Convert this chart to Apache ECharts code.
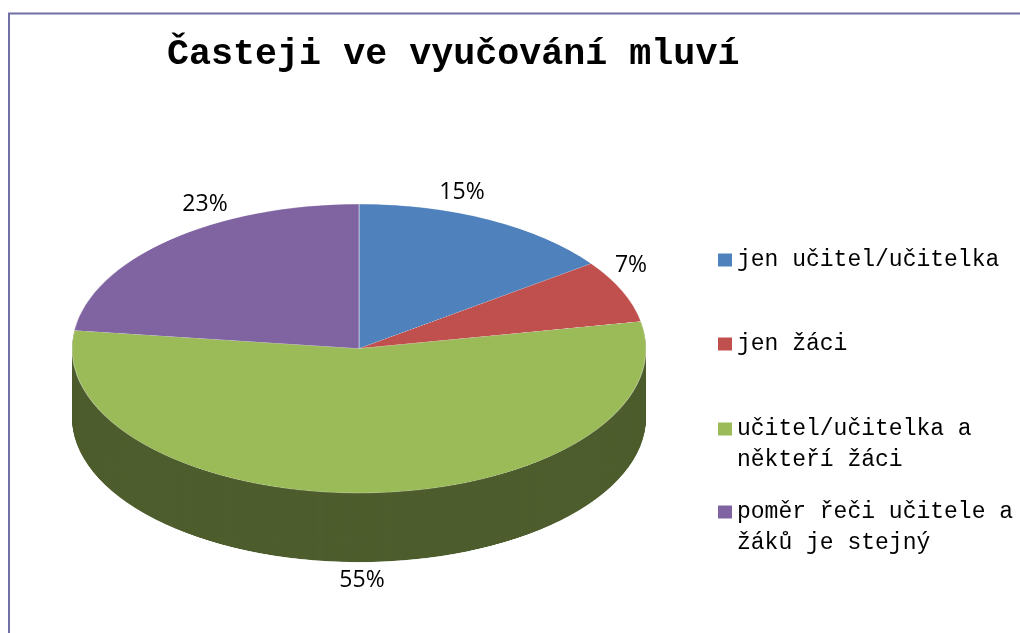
<!DOCTYPE html>
<html>
<head>
<meta charset="utf-8">
<script src="https://cdn.jsdelivr.net/npm/echarts@6/dist/echarts.min.js"></script>
<style>
  html, body { margin: 0; padding: 0; background: #ffffff; overflow: hidden; }
  #stage { position: relative; width: 1020px; height: 633px; overflow: hidden; background: #ffffff; }
  #pie { position: absolute; left: 0; top: 0; width: 1020px; height: 1120px; transform-origin: 0 0; }
  #main { position: absolute; left: 0; top: 0; width: 1020px; height: 633px; }
</style>
</head>
<body>
<div id="stage">
  <div id="pie"></div>
  <div id="main"></div>
</div>
<script>
// ---- data ----
const titleText = 'Časteji ve vyučování mluví';
const categories = ['jen učitel/učitelka', 'jen žáci', 'učitel/učitelka a někteří žáci', 'poměr řeči učitele a žáků je stejný'];
const legendLines = [['jen učitel/učitelka'], ['jen žáci'], ['učitel/učitelka a', 'někteří žáci'], ['poměr řeči učitele a', 'žáků je stejný']];
const values = [15, 7, 55, 23];

// ---- style ----
const topColors = ['#4F81BD', '#C0504D', '#9BBB59', '#8064A2'];
const sideColors = ['#27405E', '#602826', '#4E5D2D', '#403251'];
const CX = 359, CY = 348.5, RX = 287, RY = 144.5, DEPTH = 69;
const SY = RY / RX;                       // vertical squash of the pie layer
const labelOffsets = [[103, -156], [272, -83], [3, 232], [-154, -144]];
const legendIconCenters = [260, 344, 429, 512];
const LH = 30.5;

document.getElementById('pie').style.transform = 'scaleY(' + SY + ')';

// ---- pie (top face + stacked side layers), drawn in a squashed layer ----
const pieChart = echarts.init(document.getElementById('pie'), null, { renderer: 'canvas' });
const pcy = CY / SY;
const depthPx = DEPTH / SY;
const pieSeries = [];
for (let d = Math.round(depthPx); d >= 1; d -= 1.5) {
  pieSeries.push({
    type: 'pie', silent: true, animation: false,
    center: [CX, pcy + d], radius: [0, RX],
    startAngle: 90, clockwise: true,
    label: { show: false }, labelLine: { show: false },
    data: categories.map((c, i) => ({ name: c, value: values[i], itemStyle: { color: sideColors[i] } }))
  });
}
pieSeries.push({
  type: 'pie', silent: true, animation: false,
  center: [CX, pcy], radius: [0, RX],
  startAngle: 90, clockwise: true,
  label: { show: false }, labelLine: { show: false },
  itemStyle: { borderColor: 'rgba(255,255,255,0.45)', borderWidth: 1 },
  data: categories.map((c, i) => ({ name: c, value: values[i], itemStyle: { color: topColors[i] } }))
});
pieChart.setOption({ animation: false, series: pieSeries });

// ---- overlay: frame, title, legend, percentage labels ----
const chart = echarts.init(document.getElementById('main'), null, { renderer: 'canvas' });
// multi-line entries get a leading blank line so the first text line sits beside the icon
const legends = categories.map((c, i) => {
  const lines = legendLines[i];
  const shown = lines.length > 1 ? ['', ...lines] : lines;
  return {
    data: [{ name: c, itemStyle: { color: topColors[i], opacity: 1 } }],
    left: 718,
    top: legendIconCenters[i] - shown.length * LH / 2,
    orient: 'vertical',
    padding: 0,
    itemWidth: 14, itemHeight: 13,
    icon: 'rect',
    selectedMode: false,
    formatter: () => shown.join('\n'),
    textStyle: { fontFamily: 'Liberation Mono', fontSize: 23, color: '#000000', lineHeight: LH }
  };
});

chart.setOption({
  animation: false,
  title: {
    text: titleText, left: 167, top: 35, padding: 0,
    textStyle: { fontFamily: 'Liberation Mono', fontWeight: 'bold', fontSize: 36.7, color: '#000000', lineHeight: 40 }
  },
  graphic: [{
    type: 'rect', silent: true,
    shape: { x: 9, y: 13.5, width: 1200, height: 800 },
    style: { fill: 'none', stroke: '#7070A6', lineWidth: 2 }
  }],
  legend: legends,
  series: [{
    type: 'pie', silent: true, animation: false,
    center: [CX, CY], radius: [0, 2],
    startAngle: 90, clockwise: true,
    avoidLabelOverlap: false,
    itemStyle: { color: 'rgba(0,0,0,0)' },
    labelLine: { show: false },
    label: {
      show: true, position: 'outside', color: '#000000',
      fontFamily: 'Open Sans', fontSize: 23,
      formatter: p => Math.round(p.percent) + '%'
    },
    labelLayout: p => {
      const o = labelOffsets[p.dataIndex];
      return { x: CX + o[0], y: CY + o[1], align: 'center', verticalAlign: 'middle' };
    },
    data: categories.map((c, i) => ({ name: c, value: values[i] }))
  }]
});
</script>
</body>
</html>
